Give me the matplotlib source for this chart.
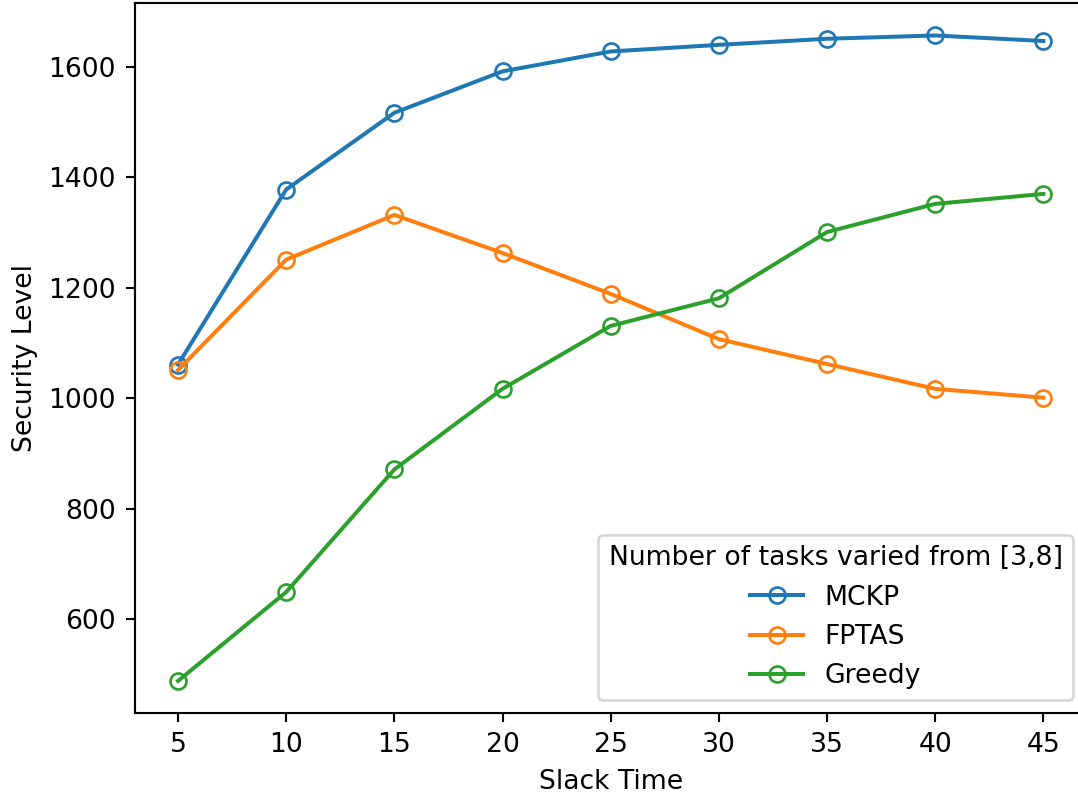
import matplotlib.pyplot as plt

# =============================================================================
#  Data
# =============================================================================
slack_time = [5, 10, 15, 20, 25, 30, 35, 40, 45]
mckp = [1061, 1378, 1517, 1592, 1628, 1640, 1651, 1657, 1647]
fptas = [1051, 1251, 1332, 1263, 1189, 1107, 1062, 1017, 1001]
greedy = [488, 649, 871, 1017, 1131, 1181, 1301, 1352, 1370]

# =============================================================================
#  Plot
# =============================================================================
dpi = 192
fig, ax = plt.subplots(figsize=(1078 / dpi, 796 / dpi), dpi=dpi)

style = dict(marker="o", markersize=6, markerfacecolor="none", linewidth=1.5)
ax.plot(slack_time, mckp, color="tab:blue", label="MCKP", **style)
ax.plot(slack_time, fptas, color="tab:orange", label="FPTAS", **style)
ax.plot(slack_time, greedy, color="tab:green", label="Greedy", **style)

ax.set_xticks(slack_time)
ax.set_yticks([600, 800, 1000, 1200, 1400, 1600])
ax.set_xlabel("Slack Time")
ax.set_ylabel("Security Level")
ax.legend(title="Number of tasks varied from [3,8]", loc="lower right")

# the original is cropped just past the right spine
fig.subplots_adjust(left=0.125, right=1.008, top=0.996, bottom=0.104)
fig.savefig("out.png", dpi=dpi)
